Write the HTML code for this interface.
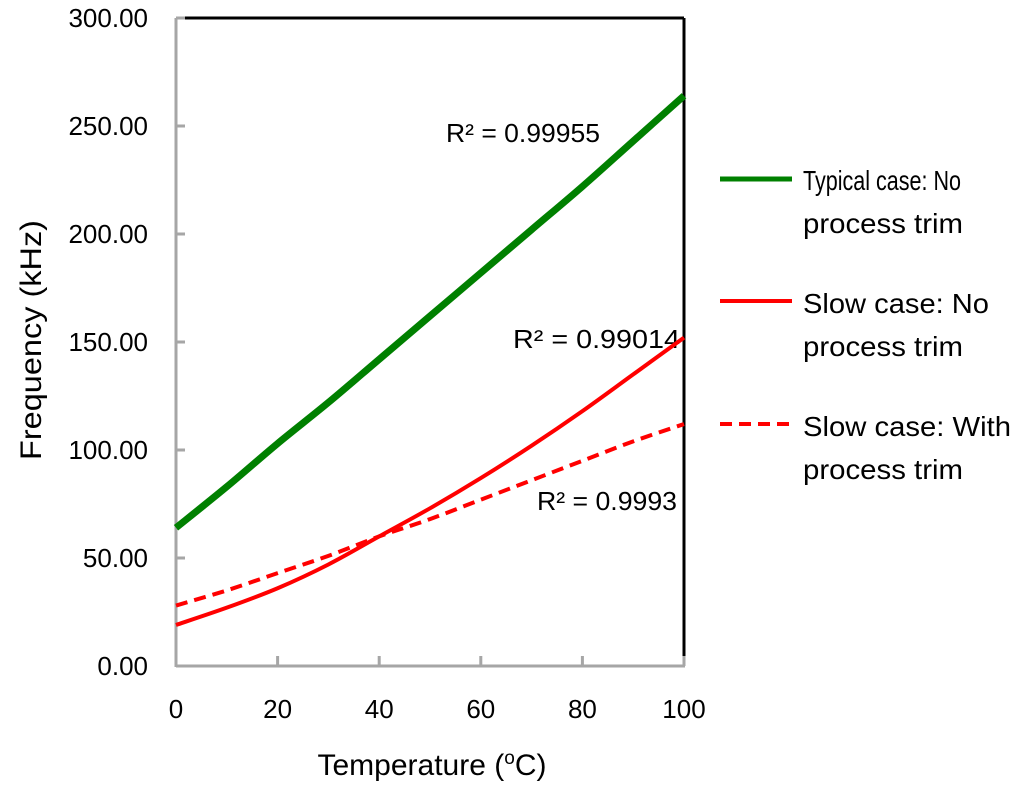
<!DOCTYPE html>
<html><head><meta charset="utf-8"><style>
html,body{margin:0;padding:0;background:#fff}
svg text{font-family:"Liberation Sans",sans-serif;fill:#000}
</style></head><body>
<svg id="chart" width="1024" height="791" xmlns="http://www.w3.org/2000/svg">
<g font-size="26">
<text x="446" y="142" textLength="154" lengthAdjust="spacingAndGlyphs">R² = 0.99955</text>
<text x="513" y="348" textLength="167" lengthAdjust="spacingAndGlyphs">R² = 0.99014</text>
<text x="537" y="510" textLength="140" lengthAdjust="spacingAndGlyphs">R² = 0.9993</text>
</g>
<g font-size="28">
<g>
<line x1="720" y1="179" x2="792" y2="179" stroke="#008000" stroke-width="5"/>
<text x="803" y="190" textLength="158" lengthAdjust="spacingAndGlyphs">Typical case: No</text>
<text x="803" y="233" textLength="160" lengthAdjust="spacingAndGlyphs">process trim</text>
</g>
<g>
<line x1="720" y1="301" x2="792" y2="301" stroke="#ff0000" stroke-width="4"/>
<text x="803" y="313" textLength="186" lengthAdjust="spacingAndGlyphs">Slow case: No</text>
<text x="803" y="356" textLength="160" lengthAdjust="spacingAndGlyphs">process trim</text>
</g>
<g>
<line x1="720" y1="424" x2="792" y2="424" stroke="#ff0000" stroke-width="4" stroke-dasharray="12,7"/>
<text x="803" y="436" textLength="208" lengthAdjust="spacingAndGlyphs">Slow case: With</text>
<text x="803" y="479" textLength="160" lengthAdjust="spacingAndGlyphs">process trim</text>
</g>
</g>
<text x="0" y="0" font-size="30" text-anchor="middle" textLength="240" lengthAdjust="spacingAndGlyphs" transform="translate(41,340) rotate(-90)">Frequency (kHz)</text>
<text x="432" y="775" font-size="30" text-anchor="middle">Temperature (<tspan font-size="19" dy="-11">o</tspan><tspan dy="11">C)</tspan></text>
</svg>
<script>
const xTicks=[0,20,40,60,80,100];
const yTicks=[0,50,100,150,200,250,300];
const temps=[0,10,20,30,40,50,60,70,80,90,100];
const typical=[64,83,103,122,142,162,182,202,222,243,264];
const slowNoTrim=[19,27,36,47,60,73,87,102,118,135,152];
const slowTrim=[28,35,43,51,60,68,77,86,95,104,112];
const L=176,R=684,T=18,B=666;
const sx=v=>L+(v-0)/100*(R-L);
const sy=v=>B-(v/300)*(B-T);
const NS="http://www.w3.org/2000/svg";
const svg=document.getElementById('chart');
function mk(tag,attrs){const e=document.createElementNS(NS,tag);for(const k in attrs)e.setAttribute(k,attrs[k]);svg.appendChild(e);return e;}
let e=mk('line',{x1:L,y1:T,x2:R,y2:T,stroke:'#000','stroke-width':3});


e=mk('line',{x1:R,y1:T,x2:R,y2:B,stroke:'#000','stroke-width':3});


e=mk('line',{x1:L,y1:T,x2:L,y2:B+1,stroke:'#a6a6a6','stroke-width':3});


e=mk('line',{x1:L,y1:B,x2:R+1,y2:B,stroke:'#a6a6a6','stroke-width':3});


yTicks.forEach(v=>{
  const t=mk('line',{x1:L,y1:sy(v),x2:L+9,y2:sy(v),stroke:'#a6a6a6','stroke-width':3});
  
  
  const tx=mk('text',{x:148,y:sy(v)+9,'text-anchor':'end','font-size':26});
  tx.textContent=v.toFixed(2);
  
  
});
xTicks.forEach(v=>{
  const t=mk('line',{x1:sx(v),y1:B,x2:sx(v),y2:B-10,stroke:'#a6a6a6','stroke-width':3});
  
  
  const tx=mk('text',{x:sx(v),y:718,'text-anchor':'middle','font-size':26});
  tx.textContent=v;
  
  
});
function series(vals,color,w,dash,name){
  const p=vals.map((v,i)=>[sx(temps[i]),sy(v)]);
  let d='M'+p[0][0]+','+p[0][1];
  for(let i=0;i<p.length-1;i++){
    const p0=p[Math.max(0,i-1)],p1=p[i],p2=p[i+1],p3=p[Math.min(p.length-1,i+2)];
    const c1=[p1[0]+(p2[0]-p0[0])/6,p1[1]+(p2[1]-p0[1])/6];
    const c2=[p2[0]-(p3[0]-p1[0])/6,p2[1]-(p3[1]-p1[1])/6];
    d+=' C'+c1+' '+c2+' '+p2;
  }
  const a={d:d,fill:'none',stroke:color,'stroke-width':w};
  if(dash)a['stroke-dasharray']=dash;
  const s=mk('path',a);
  
  
}
series(typical,'#008000',7,null,'typical-no-trim-line');
series(slowNoTrim,'#ff0000',4,null,'slow-no-trim-line');
series(slowTrim,'#ff0000',4,'12,7','slow-with-trim-line');
</script>
</body></html>
